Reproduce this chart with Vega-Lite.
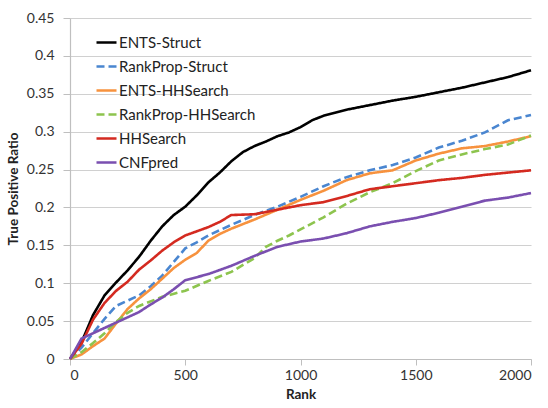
{
  "$schema": "https://vega.github.io/schema/vega-lite/v6.json",
  "width": 461,
  "height": 341,
  "autosize": {"type": "none"},
  "padding": {"left": 70, "top": 18, "right": 17, "bottom": 49},
  "background": "white",
  "config": {
    "view": {"stroke": null},
    "font": "Lato",
    "axis": {"labelFont": "Lato", "titleFont": "Lato", "labelFontSize": 14, "labelColor": "#333333", "titleFontSize": 13.5, "titleColor": "#222222", "titleFontWeight": "bold", "domainColor": "#bfbfbf", "tickColor": "#bfbfbf", "gridColor": "#d0d0d0", "gridWidth": 1.2}
  },
  "datasets": {
    "curves": [
      {"method": "ENTS-Struct", "rank": 0, "tpr": 0},
      {"method": "ENTS-Struct", "rank": 50, "tpr": 0.022},
      {"method": "ENTS-Struct", "rank": 100, "tpr": 0.058},
      {"method": "ENTS-Struct", "rank": 150, "tpr": 0.084},
      {"method": "ENTS-Struct", "rank": 200, "tpr": 0.101},
      {"method": "ENTS-Struct", "rank": 250, "tpr": 0.117},
      {"method": "ENTS-Struct", "rank": 300, "tpr": 0.135},
      {"method": "ENTS-Struct", "rank": 350, "tpr": 0.156},
      {"method": "ENTS-Struct", "rank": 400, "tpr": 0.175},
      {"method": "ENTS-Struct", "rank": 450, "tpr": 0.19},
      {"method": "ENTS-Struct", "rank": 500, "tpr": 0.201},
      {"method": "ENTS-Struct", "rank": 550, "tpr": 0.216},
      {"method": "ENTS-Struct", "rank": 600, "tpr": 0.233},
      {"method": "ENTS-Struct", "rank": 650, "tpr": 0.246},
      {"method": "ENTS-Struct", "rank": 700, "tpr": 0.261},
      {"method": "ENTS-Struct", "rank": 750, "tpr": 0.273},
      {"method": "ENTS-Struct", "rank": 800, "tpr": 0.281},
      {"method": "ENTS-Struct", "rank": 850, "tpr": 0.287},
      {"method": "ENTS-Struct", "rank": 900, "tpr": 0.294},
      {"method": "ENTS-Struct", "rank": 950, "tpr": 0.299},
      {"method": "ENTS-Struct", "rank": 1000, "tpr": 0.306},
      {"method": "ENTS-Struct", "rank": 1050, "tpr": 0.315},
      {"method": "ENTS-Struct", "rank": 1100, "tpr": 0.321},
      {"method": "ENTS-Struct", "rank": 1150, "tpr": 0.325},
      {"method": "ENTS-Struct", "rank": 1200, "tpr": 0.329},
      {"method": "ENTS-Struct", "rank": 1300, "tpr": 0.335},
      {"method": "ENTS-Struct", "rank": 1400, "tpr": 0.341},
      {"method": "ENTS-Struct", "rank": 1500, "tpr": 0.346},
      {"method": "ENTS-Struct", "rank": 1600, "tpr": 0.352},
      {"method": "ENTS-Struct", "rank": 1700, "tpr": 0.358},
      {"method": "ENTS-Struct", "rank": 1800, "tpr": 0.365},
      {"method": "ENTS-Struct", "rank": 1900, "tpr": 0.372},
      {"method": "ENTS-Struct", "rank": 2000, "tpr": 0.381},

      {"method": "RankProp-Struct", "rank": 0, "tpr": 0},
      {"method": "RankProp-Struct", "rank": 50, "tpr": 0.015},
      {"method": "RankProp-Struct", "rank": 100, "tpr": 0.034},
      {"method": "RankProp-Struct", "rank": 150, "tpr": 0.053},
      {"method": "RankProp-Struct", "rank": 200, "tpr": 0.07},
      {"method": "RankProp-Struct", "rank": 250, "tpr": 0.077},
      {"method": "RankProp-Struct", "rank": 300, "tpr": 0.084},
      {"method": "RankProp-Struct", "rank": 350, "tpr": 0.096},
      {"method": "RankProp-Struct", "rank": 400, "tpr": 0.11},
      {"method": "RankProp-Struct", "rank": 450, "tpr": 0.128},
      {"method": "RankProp-Struct", "rank": 500, "tpr": 0.146},
      {"method": "RankProp-Struct", "rank": 550, "tpr": 0.154},
      {"method": "RankProp-Struct", "rank": 600, "tpr": 0.163},
      {"method": "RankProp-Struct", "rank": 700, "tpr": 0.177},
      {"method": "RankProp-Struct", "rank": 800, "tpr": 0.19},
      {"method": "RankProp-Struct", "rank": 900, "tpr": 0.201},
      {"method": "RankProp-Struct", "rank": 1000, "tpr": 0.214},
      {"method": "RankProp-Struct", "rank": 1100, "tpr": 0.228},
      {"method": "RankProp-Struct", "rank": 1200, "tpr": 0.24},
      {"method": "RankProp-Struct", "rank": 1300, "tpr": 0.249},
      {"method": "RankProp-Struct", "rank": 1400, "tpr": 0.256},
      {"method": "RankProp-Struct", "rank": 1500, "tpr": 0.266},
      {"method": "RankProp-Struct", "rank": 1600, "tpr": 0.279},
      {"method": "RankProp-Struct", "rank": 1700, "tpr": 0.288},
      {"method": "RankProp-Struct", "rank": 1800, "tpr": 0.299},
      {"method": "RankProp-Struct", "rank": 1900, "tpr": 0.315},
      {"method": "RankProp-Struct", "rank": 2000, "tpr": 0.322},

      {"method": "ENTS-HHSearch", "rank": 0, "tpr": 0},
      {"method": "ENTS-HHSearch", "rank": 50, "tpr": 0.006},
      {"method": "ENTS-HHSearch", "rank": 100, "tpr": 0.017},
      {"method": "ENTS-HHSearch", "rank": 150, "tpr": 0.027},
      {"method": "ENTS-HHSearch", "rank": 200, "tpr": 0.047},
      {"method": "ENTS-HHSearch", "rank": 250, "tpr": 0.066},
      {"method": "ENTS-HHSearch", "rank": 300, "tpr": 0.08},
      {"method": "ENTS-HHSearch", "rank": 350, "tpr": 0.092},
      {"method": "ENTS-HHSearch", "rank": 400, "tpr": 0.106},
      {"method": "ENTS-HHSearch", "rank": 450, "tpr": 0.12},
      {"method": "ENTS-HHSearch", "rank": 500, "tpr": 0.131},
      {"method": "ENTS-HHSearch", "rank": 550, "tpr": 0.14},
      {"method": "ENTS-HHSearch", "rank": 600, "tpr": 0.156},
      {"method": "ENTS-HHSearch", "rank": 650, "tpr": 0.165},
      {"method": "ENTS-HHSearch", "rank": 700, "tpr": 0.172},
      {"method": "ENTS-HHSearch", "rank": 800, "tpr": 0.184},
      {"method": "ENTS-HHSearch", "rank": 900, "tpr": 0.197},
      {"method": "ENTS-HHSearch", "rank": 1000, "tpr": 0.21},
      {"method": "ENTS-HHSearch", "rank": 1100, "tpr": 0.222},
      {"method": "ENTS-HHSearch", "rank": 1200, "tpr": 0.236},
      {"method": "ENTS-HHSearch", "rank": 1300, "tpr": 0.245},
      {"method": "ENTS-HHSearch", "rank": 1400, "tpr": 0.249},
      {"method": "ENTS-HHSearch", "rank": 1500, "tpr": 0.262},
      {"method": "ENTS-HHSearch", "rank": 1600, "tpr": 0.271},
      {"method": "ENTS-HHSearch", "rank": 1700, "tpr": 0.278},
      {"method": "ENTS-HHSearch", "rank": 1800, "tpr": 0.281},
      {"method": "ENTS-HHSearch", "rank": 1900, "tpr": 0.287},
      {"method": "ENTS-HHSearch", "rank": 2000, "tpr": 0.294},

      {"method": "RankProp-HHSearch", "rank": 0, "tpr": 0},
      {"method": "RankProp-HHSearch", "rank": 50, "tpr": 0.009},
      {"method": "RankProp-HHSearch", "rank": 100, "tpr": 0.021},
      {"method": "RankProp-HHSearch", "rank": 150, "tpr": 0.034},
      {"method": "RankProp-HHSearch", "rank": 200, "tpr": 0.049},
      {"method": "RankProp-HHSearch", "rank": 250, "tpr": 0.061},
      {"method": "RankProp-HHSearch", "rank": 300, "tpr": 0.07},
      {"method": "RankProp-HHSearch", "rank": 400, "tpr": 0.082},
      {"method": "RankProp-HHSearch", "rank": 500, "tpr": 0.09},
      {"method": "RankProp-HHSearch", "rank": 600, "tpr": 0.103},
      {"method": "RankProp-HHSearch", "rank": 700, "tpr": 0.115},
      {"method": "RankProp-HHSearch", "rank": 800, "tpr": 0.133},
      {"method": "RankProp-HHSearch", "rank": 850, "tpr": 0.148},
      {"method": "RankProp-HHSearch", "rank": 900, "tpr": 0.156},
      {"method": "RankProp-HHSearch", "rank": 950, "tpr": 0.163},
      {"method": "RankProp-HHSearch", "rank": 1000, "tpr": 0.171},
      {"method": "RankProp-HHSearch", "rank": 1100, "tpr": 0.187},
      {"method": "RankProp-HHSearch", "rank": 1200, "tpr": 0.205},
      {"method": "RankProp-HHSearch", "rank": 1300, "tpr": 0.22},
      {"method": "RankProp-HHSearch", "rank": 1400, "tpr": 0.232},
      {"method": "RankProp-HHSearch", "rank": 1500, "tpr": 0.248},
      {"method": "RankProp-HHSearch", "rank": 1600, "tpr": 0.262},
      {"method": "RankProp-HHSearch", "rank": 1700, "tpr": 0.27},
      {"method": "RankProp-HHSearch", "rank": 1800, "tpr": 0.277},
      {"method": "RankProp-HHSearch", "rank": 1900, "tpr": 0.283},
      {"method": "RankProp-HHSearch", "rank": 2000, "tpr": 0.295},

      {"method": "HHSearch", "rank": 0, "tpr": 0},
      {"method": "HHSearch", "rank": 50, "tpr": 0.02},
      {"method": "HHSearch", "rank": 100, "tpr": 0.052},
      {"method": "HHSearch", "rank": 150, "tpr": 0.074},
      {"method": "HHSearch", "rank": 200, "tpr": 0.09},
      {"method": "HHSearch", "rank": 250, "tpr": 0.102},
      {"method": "HHSearch", "rank": 300, "tpr": 0.118},
      {"method": "HHSearch", "rank": 350, "tpr": 0.13},
      {"method": "HHSearch", "rank": 400, "tpr": 0.143},
      {"method": "HHSearch", "rank": 450, "tpr": 0.154},
      {"method": "HHSearch", "rank": 500, "tpr": 0.163},
      {"method": "HHSearch", "rank": 600, "tpr": 0.174},
      {"method": "HHSearch", "rank": 650, "tpr": 0.181},
      {"method": "HHSearch", "rank": 700, "tpr": 0.19},
      {"method": "HHSearch", "rank": 800, "tpr": 0.191},
      {"method": "HHSearch", "rank": 900, "tpr": 0.197},
      {"method": "HHSearch", "rank": 1000, "tpr": 0.203},
      {"method": "HHSearch", "rank": 1100, "tpr": 0.207},
      {"method": "HHSearch", "rank": 1200, "tpr": 0.215},
      {"method": "HHSearch", "rank": 1300, "tpr": 0.224},
      {"method": "HHSearch", "rank": 1400, "tpr": 0.228},
      {"method": "HHSearch", "rank": 1500, "tpr": 0.232},
      {"method": "HHSearch", "rank": 1600, "tpr": 0.236},
      {"method": "HHSearch", "rank": 1700, "tpr": 0.239},
      {"method": "HHSearch", "rank": 1800, "tpr": 0.243},
      {"method": "HHSearch", "rank": 1900, "tpr": 0.246},
      {"method": "HHSearch", "rank": 2000, "tpr": 0.249},

      {"method": "CNFpred", "rank": 0, "tpr": 0},
      {"method": "CNFpred", "rank": 50, "tpr": 0.027},
      {"method": "CNFpred", "rank": 100, "tpr": 0.034},
      {"method": "CNFpred", "rank": 150, "tpr": 0.041},
      {"method": "CNFpred", "rank": 200, "tpr": 0.048},
      {"method": "CNFpred", "rank": 250, "tpr": 0.055},
      {"method": "CNFpred", "rank": 300, "tpr": 0.062},
      {"method": "CNFpred", "rank": 350, "tpr": 0.072},
      {"method": "CNFpred", "rank": 400, "tpr": 0.081},
      {"method": "CNFpred", "rank": 450, "tpr": 0.092},
      {"method": "CNFpred", "rank": 500, "tpr": 0.104},
      {"method": "CNFpred", "rank": 600, "tpr": 0.112},
      {"method": "CNFpred", "rank": 700, "tpr": 0.123},
      {"method": "CNFpred", "rank": 800, "tpr": 0.136},
      {"method": "CNFpred", "rank": 900, "tpr": 0.148},
      {"method": "CNFpred", "rank": 1000, "tpr": 0.155},
      {"method": "CNFpred", "rank": 1100, "tpr": 0.159},
      {"method": "CNFpred", "rank": 1200, "tpr": 0.166},
      {"method": "CNFpred", "rank": 1300, "tpr": 0.175},
      {"method": "CNFpred", "rank": 1400, "tpr": 0.181},
      {"method": "CNFpred", "rank": 1500, "tpr": 0.186},
      {"method": "CNFpred", "rank": 1600, "tpr": 0.193},
      {"method": "CNFpred", "rank": 1700, "tpr": 0.201},
      {"method": "CNFpred", "rank": 1800, "tpr": 0.209},
      {"method": "CNFpred", "rank": 1900, "tpr": 0.213},
      {"method": "CNFpred", "rank": 2000, "tpr": 0.219}
    ]
  },
  "data": {"name": "curves"},
  "mark": {"type": "line", "strokeWidth": 2.6, "strokeCap": "butt"},
  "encoding": {
    "x": {
      "field": "rank", "type": "quantitative",
      "scale": {"domain": [0, 2000], "nice": false},
      "axis": {"title": "Rank", "values": [0, 500, 1000, 1500, 2000], "format": "d", "grid": false, "tickSize": 6, "labelPadding": 3, "titlePadding": 5, "domainWidth": 1.2}
    },
    "y": {
      "field": "tpr", "type": "quantitative",
      "scale": {"domain": [0, 0.45], "nice": false},
      "axis": {"title": "True Positive Ratio", "values": [0, 0.05, 0.1, 0.15, 0.2, 0.25, 0.3, 0.35, 0.4, 0.45], "format": ".2~f", "tickSize": 7, "labelPadding": 9, "titlePadding": 6, "domainWidth": 1.2}
    },
    "color": {
      "field": "method", "type": "nominal",
      "scale": {
        "domain": ["ENTS-Struct", "RankProp-Struct", "ENTS-HHSearch", "RankProp-HHSearch", "HHSearch", "CNFpred"],
        "range": ["#000000", "#4a86d0", "#f7923e", "#8dc44e", "#d42a20", "#7a4fb0"]
      },
      "legend": {
        "title": null, "orient": "none", "legendX": 25, "legendY": 13,
        "symbolType": "stroke", "symbolSize": 400, "symbolStrokeWidth": 2.6,
        "labelFont": "Lato", "labelFontSize": 15, "labelColor": "#222222", "labelOffset": 1,
        "rowPadding": 4, "padding": 0
      }
    },
    "strokeDash": {
      "field": "method", "type": "nominal",
      "scale": {
        "domain": ["ENTS-Struct", "RankProp-Struct", "ENTS-HHSearch", "RankProp-HHSearch", "HHSearch", "CNFpred"],
        "range": [[1, 0], [8, 4], [1, 0], [8, 4], [1, 0], [1, 0]]
      },
      "legend": null
    },
    "order": {"field": "rank", "type": "quantitative"}
  }
}
